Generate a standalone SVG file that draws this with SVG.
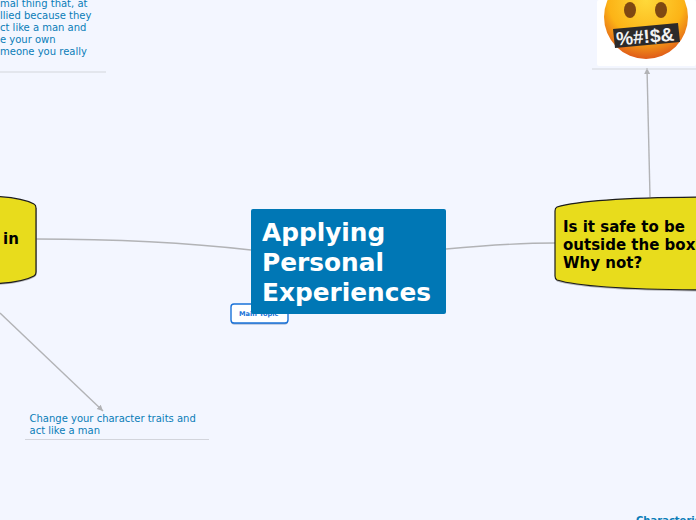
<svg xmlns="http://www.w3.org/2000/svg" width="696" height="520" viewBox="0 0 696 520">
<style>
text{font-family:"DejaVu Sans",Verdana,sans-serif}
.c{fill:none;stroke:#b2b3b6;stroke-width:1.4}
.u{stroke:#d3d5dc;stroke-width:1.2}
.t{font-size:10px;fill:#0a7db8}
.y{fill:#e8dc1c;stroke:#1c1c1c;stroke-width:1.2}
.s{fill:#8c8c90;opacity:.6}
.b{font-size:15px;font-weight:bold;fill:#000}
.h{font-size:24.8px;font-weight:bold;fill:#fff}
</style>
<defs>
<marker id="a" markerWidth="7" markerHeight="7" refX="6" refY="3" orient="auto" markerUnits="userSpaceOnUse"><path d="M0 0L6 3L0 6Z" fill="#b2b3b6"/></marker>
<radialGradient id="f" cx="0.5" cy="0.3" r="0.75"><stop offset="0" stop-color="#ffd93a"/><stop offset="0.6" stop-color="#fcb316"/><stop offset="1" stop-color="#d9481a"/></radialGradient>
</defs>
<rect width="696" height="520" fill="#f3f6ff"/>
<g id="connectors">
<path class="c" d="M36 239C120 239 190 243 251 250"/>
<path class="c" d="M446 249C490 245 520 243 555 243"/>
<path class="c" d="M650 197L647 68" marker-end="url(#a)"/>
<path class="c" d="M0 313L103 411" marker-end="url(#a)"/>
</g>
<g id="note-top">
<text class="t"><tspan x="0" y="7">mal thing that, at</tspan><tspan x="0" y="19">llied because they</tspan><tspan x="0" y="31">ct like a man and</tspan><tspan x="0" y="43">e your own</tspan><tspan x="0" y="55">meone you really</tspan></text>
<line class="u" x1="0" y1="72" x2="106" y2="72"/>
</g>
<g id="note-image">
<rect x="597" y="0" width="99" height="66" rx="2" fill="#fff"/>
<circle cx="646" cy="17" r="42" fill="url(#f)"/>
<ellipse cx="630" cy="10" rx="6" ry="8" fill="#7f4812"/>
<ellipse cx="661" cy="10" rx="6" ry="8" fill="#7f4812"/>
<path d="M613 29L678 23L680 42L615 48Z" fill="#2c2a2a"/>
<text x="616" y="43" font-size="19" font-weight="bold" fill="#f2f2f2" transform="rotate(-5 646 36)" style="font-family:'Liberation Sans',Arial,sans-serif">%#!$&amp;</text>
<line class="u" x1="592" y1="69" x2="696" y2="69"/>
</g>
<g id="node-left">
<path class="s" d="M-20 285.500C5 285.500 25 282.500 34 277.500Q37 276 37 272V208H-20Z"/>
<path class="y" d="M-20 284C5 284 25 281 34 276Q36 275 36 272V208Q36 205 34 204C25 199 5 196 -20 196Z"/>
<text class="b" x="3" y="244">in</text>
</g>
<g id="node-right">
<path class="s" d="M720 291.500C640 291.500 580 288.500 557 281.500L555 278V240H720Z"/>
<path class="y" d="M720 197C640 197 580 200 557 207Q555 208 555 211V276Q555 279 557 280C580 287 640 290 720 290Z"/>
<text class="b"><tspan x="563" y="232">Is it safe to be</tspan><tspan x="563" y="250">outside the box?</tspan><tspan x="563" y="268">Why not?</tspan></text>
</g>
<g id="main-topic-label">
<rect x="231" y="305" width="57" height="19.500" rx="3" fill="#8fa6c8"/>
<rect x="231" y="304" width="57" height="19" rx="3" fill="#fff" stroke="#1a73d9" stroke-width="1.4"/>
<text x="239" y="316" font-size="6.6" font-weight="bold" fill="#1a73d9">Main Topic</text>
</g>
<g id="central">
<rect x="251" y="209" width="195" height="105" rx="2" fill="#0077b5"/>
<text class="h"><tspan x="262" y="241">Applying</tspan><tspan x="262" y="271">Personal</tspan><tspan x="262" y="301">Experiences</tspan></text>
</g>
<g id="note-bottom">
<text class="t"><tspan x="29.500" y="422">Change your character traits and</tspan><tspan x="29.500" y="434">act like a man</tspan></text>
<line class="u" x1="25" y1="439.500" x2="209" y2="439.500"/>
</g>
<g id="characteristics">
<text x="636" y="524" font-size="10" font-weight="bold" fill="#0a7db8">Characteristics</text>
</g>
</svg>
